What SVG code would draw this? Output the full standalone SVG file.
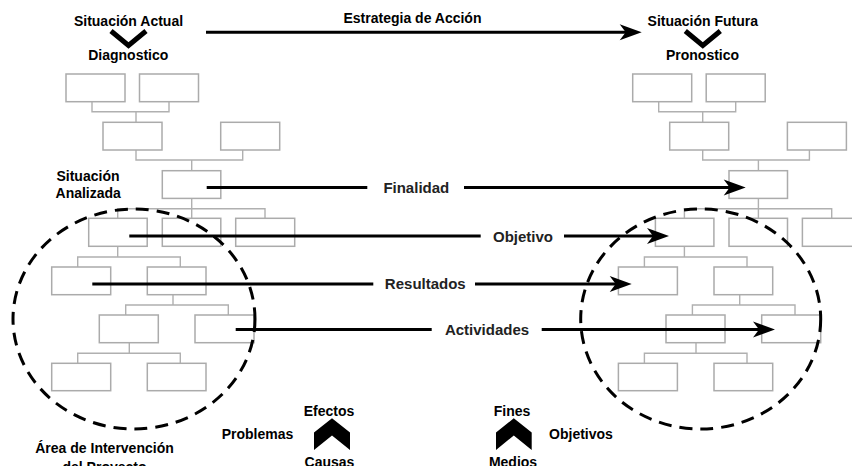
<svg xmlns="http://www.w3.org/2000/svg" width="852" height="466" viewBox="0 0 852 466">
  <style>
    .box { fill: #ffffff; stroke: #ababab; stroke-width: 1.5; }
    .wire { fill: none; stroke: #b0b0b0; stroke-width: 1.4; }
    .area { fill: none; stroke: #000; stroke-width: 3; stroke-dasharray: 13 8; }
    .flow { stroke: #000; stroke-width: 3; marker-end: url(#arrowhead); }
    .title { font-family: "Liberation Sans", Arial, Helvetica, sans-serif; font-weight: bold; font-size: 14px; fill: #000; text-anchor: middle; }
    .lbl { font-family: "Liberation Sans", Arial, Helvetica, sans-serif; font-weight: bold; font-size: 15px; fill: #222; text-anchor: middle; }
    .lblbg { fill: #ffffff; }
    .chev { fill: #000; }
    .vee { fill: none; stroke: #000; stroke-width: 5; stroke-linejoin: miter; }
  </style>
  <defs>
    <marker id="arrowhead" markerUnits="userSpaceOnUse" markerWidth="24" markerHeight="18" viewBox="0 0 24 18" refX="9" refY="9" orient="auto">
      <path d="M1,1 L23,9 L1,17 L7,9 Z" fill="#000"/>
    </marker>
  </defs>

  <rect width="852" height="466" fill="#ffffff"/>

  <!-- problem tree (current situation) -->
  <g id="tree-actual">
    <g id="tree-actual-wires" class="wire">
      <path d="M92,101.7 V111.7 H169 V101.7 M136,111.7 V122.3"/>
      <path d="M136,150 V160 H242.7 V150 M191.7,160 V170.7"/>
      <path d="M191.7,198.3 V208.7 M117.7,218.3 V208.7 H265 V218.3 M191.7,208.7 V218.3"/>
      <path d="M117.7,246.3 V257 M77.7,267 V257 H180.3 V267"/>
      <path d="M173,294.7 V305 M125.7,315 V305 H228.3 V315"/>
      <path d="M129.3,342.7 V353.3 M77.7,363.3 V353.3 H180.3 V363.3"/>
    </g>
    <g id="pa-a1"><rect class="box" x="66" y="74" width="59" height="27.7"/></g>
    <g id="pa-a2"><rect class="box" x="139.5" y="74" width="59" height="27.7"/></g>
    <g id="pa-b1"><rect class="box" x="103" y="122.3" width="59" height="27.7"/></g>
    <g id="pa-b2"><rect class="box" x="220.7" y="122.3" width="59" height="27.7"/></g>
    <g id="pa-c"><rect class="box" x="162.3" y="170.7" width="58.5" height="27.7"/></g>
    <g id="pa-d1"><rect class="box" x="88.7" y="218.3" width="58.5" height="28"/></g>
    <g id="pa-d2"><rect class="box" x="162.3" y="218.3" width="58.5" height="28"/></g>
    <g id="pa-d3"><rect class="box" x="235.7" y="218.3" width="59" height="28"/></g>
    <g id="pa-e1"><rect class="box" x="51.7" y="267" width="59" height="27.7"/></g>
    <g id="pa-e2"><rect class="box" x="147.3" y="267" width="58.7" height="27.7"/></g>
    <g id="pa-f1"><rect class="box" x="99.3" y="315" width="59" height="27.7"/></g>
    <g id="pa-f2"><rect class="box" x="195" y="315" width="59" height="27.7"/></g>
    <g id="pa-g1"><rect class="box" x="51.7" y="363.3" width="59" height="27.4"/></g>
    <g id="pa-g2"><rect class="box" x="147.3" y="363.3" width="58.7" height="27.4"/></g>
  </g>

  <!-- objective tree (future situation), same layout shifted right -->
  <g id="tree-futura" transform="translate(566.7,0)">
    <g id="tree-futura-wires" class="wire">
      <path d="M92,101.7 V111.7 H169 V101.7 M136,111.7 V122.3"/>
      <path d="M136,150 V160 H242.7 V150 M191.7,160 V170.7"/>
      <path d="M191.7,198.3 V208.7 M117.7,218.3 V208.7 H265 V218.3 M191.7,208.7 V218.3"/>
      <path d="M117.7,246.3 V257 M77.7,267 V257 H180.3 V267"/>
      <path d="M173,294.7 V305 M125.7,315 V305 H228.3 V315"/>
      <path d="M129.3,342.7 V353.3 M77.7,363.3 V353.3 H180.3 V363.3"/>
    </g>
    <g id="pf-a1"><rect class="box" x="66" y="74" width="59" height="27.7"/></g>
    <g id="pf-a2"><rect class="box" x="139.5" y="74" width="59" height="27.7"/></g>
    <g id="pf-b1"><rect class="box" x="103" y="122.3" width="59" height="27.7"/></g>
    <g id="pf-b2"><rect class="box" x="220.7" y="122.3" width="59" height="27.7"/></g>
    <g id="pf-c"><rect class="box" x="162.3" y="170.7" width="58.5" height="27.7"/></g>
    <g id="pf-d1"><rect class="box" x="88.7" y="218.3" width="58.5" height="28"/></g>
    <g id="pf-d2"><rect class="box" x="162.3" y="218.3" width="58.5" height="28"/></g>
    <g id="pf-d3"><rect class="box" x="235.7" y="218.3" width="59" height="28"/></g>
    <g id="pf-e1"><rect class="box" x="51.7" y="267" width="59" height="27.7"/></g>
    <g id="pf-e2"><rect class="box" x="147.3" y="267" width="58.7" height="27.7"/></g>
    <g id="pf-f1"><rect class="box" x="99.3" y="315" width="59" height="27.7"/></g>
    <g id="pf-f2"><rect class="box" x="195" y="315" width="59" height="27.7"/></g>
    <g id="pf-g1"><rect class="box" x="51.7" y="363.3" width="59" height="27.4"/></g>
    <g id="pf-g2"><rect class="box" x="147.3" y="363.3" width="58.7" height="27.4"/></g>
  </g>

  <!-- project intervention areas -->
  <g id="areas">
    <ellipse id="area-actual" class="area" cx="134" cy="319" rx="121" ry="110"/>
    <ellipse id="area-futura" class="area" cx="700.7" cy="319" rx="120" ry="110"/>
  </g>

  <!-- level connectors -->
  <g id="connectors">
    <line class="flow" x1="206" y1="32.3" x2="627.7" y2="32.3"/>
    <line class="flow" x1="206.7" y1="187.5" x2="731.7" y2="187.5"/>
    <line class="flow" x1="129.3" y1="236" x2="655" y2="236"/>
    <line class="flow" x1="92.3" y1="284" x2="617.7" y2="284"/>
    <line class="flow" x1="235.7" y1="329.5" x2="761" y2="329.5"/>
  </g>

  <!-- connector labels -->
  <g id="connector-labels">
    <text class="title" x="412.5" y="23.3">Estrategia de Acción</text>
    <rect class="lblbg" x="367.3" y="178" width="96.7" height="19"/>
    <text class="lbl" x="416.3" y="192.5">Finalidad</text>
    <rect class="lblbg" x="480.7" y="226" width="83.3" height="19"/>
    <text class="lbl" x="523" y="241.5">Objetivo</text>
    <rect class="lblbg" x="373.3" y="274" width="101.7" height="19"/>
    <text class="lbl" x="425.3" y="289.3">Resultados</text>
    <rect class="lblbg" x="431.7" y="320" width="110" height="19"/>
    <text class="lbl" x="487" y="335">Actividades</text>
  </g>

  <!-- headers -->
  <g id="head-actual">
    <text class="title" x="128.5" y="26">Situación Actual</text>
    <polyline class="vee" points="111,31 128.5,45.5 146,31"/>
    <text class="title" x="128.3" y="60">Diagnostico</text>
  </g>
  <g id="head-futura">
    <text class="title" x="702.8" y="26">Situación Futura</text>
    <polyline class="vee" points="685.3,31 702.8,45.5 720.3,31"/>
    <text class="title" x="702.5" y="60">Pronostico</text>
  </g>
  <g id="head-analizada">
    <text class="title" x="88" y="180.7">Situación</text>
    <text class="title" x="88.2" y="197.7">Analizada</text>
  </g>
  <g id="area-caption">
    <text class="title" x="104.5" y="452.7">Área de Intervención</text>
    <text class="title" x="104.5" y="471.5">del Proyecto</text>
  </g>

  <!-- reading direction keys -->
  <g id="key-problemas">
    <text class="title" x="257.5" y="439.3">Problemas</text>
    <text class="title" x="329" y="415.5">Efectos</text>
    <polygon class="chev" points="332,418.3 350,432.5 350,450 332,435.5 314,450 314,432.5"/>
    <text class="title" x="329.5" y="467">Causas</text>
  </g>
  <g id="key-objetivos">
    <text class="title" x="512" y="415.5">Fines</text>
    <polygon class="chev" points="513.8,418.3 531.7,432.5 531.7,450 513.8,435.5 496,450 496,432.5"/>
    <text class="title" x="513" y="467">Medios</text>
    <text class="title" x="581" y="439">Objetivos</text>
  </g>
</svg>
